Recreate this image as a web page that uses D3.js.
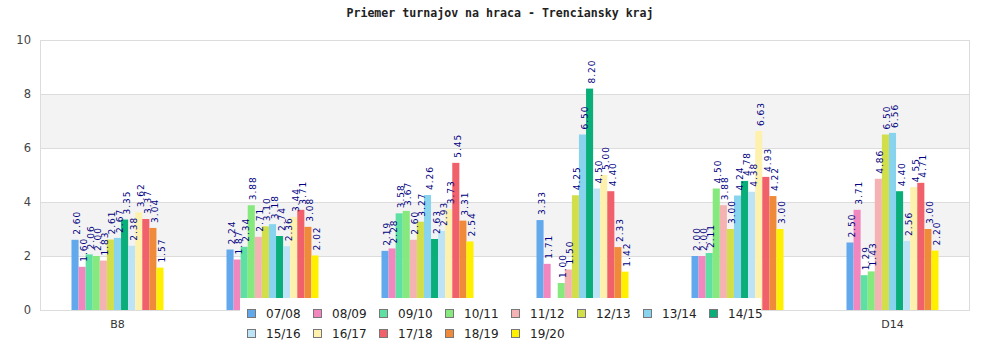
<!DOCTYPE html>
<html>
<head>
<meta charset="utf-8">
<script src="https://cdn.jsdelivr.net/npm/d3@7"></script>
<style>
  html, body { margin: 0; padding: 0; background: #fff; }
  svg { display: block; }
</style>
</head>
<body>
<svg id="chart" width="1000" height="350"></svg>
<script>
// Seasons (series) and their colours
const seasons = ["07/08", "08/09", "09/10", "10/11", "11/12", "12/13", "13/14",
                 "14/15", "15/16", "16/17", "17/18", "18/19", "19/20"];
const colors = ["#62a8ec", "#f286bf", "#5fe0a3", "#86e97e", "#f5b2b2", "#d3df4a", "#88d4ef",
                "#0aae78", "#bde3f6", "#fdf1ad", "#f0616b", "#ee8a39", "#fff000"];

// Category tick labels (only some are printed on the axis)
const tickLabels = ["B8", "", "", "", "", "D14"];

// Average tournaments per player, one array per category, ordered by season
const group1 = [2.60, 1.60, 2.06, 2.00, 1.83, 2.61, 2.67, 3.35, 2.38, 3.62, 3.37, 3.04, 1.57];
const group2 = [2.24, 1.87, 2.34, 3.88, 2.71, 3.10, 3.18, 2.74, 2.36, 3.44, 3.71, 3.08, 2.02];
const group3 = [2.19, 2.28, 3.58, 3.67, 2.60, 3.27, 4.26, 2.63, 2.93, 3.73, 5.45, 3.31, 2.54];
const group4 = [3.33, 1.71, null, 1.00, 1.50, 4.25, 6.50, 8.20, 4.50, 5.00, 4.40, 2.33, 1.42];
const group5 = [2.00, 2.00, 2.11, 4.50, 3.88, 3.00, 4.24, 4.78, 4.38, 6.63, 4.93, 4.22, 3.00];
const group6 = [2.50, 3.71, 1.29, 1.43, 4.86, 6.50, 6.56, 4.40, 2.56, 4.55, 4.71, 3.00, 2.20];
const groups = [group1, group2, group3, group4, group5, group6];

const yTicks = [0, 2, 4, 6, 8, 10];
const title = "Priemer turnajov na hraca - Trenciansky kraj";

const svg = d3.select("#chart");
const plot = { left: 40, right: 970, top: 40, bottom: 310 };

const x0 = d3.scaleBand()
  .domain(d3.range(groups.length))
  .range([plot.left, plot.right])
  .paddingInner(0)
  .paddingOuter(0);

const groupInner = 92; // width taken by the 13 bars of a group
const x1 = d3.scaleBand()
  .domain(seasons)
  .range([(x0.bandwidth() - groupInner) / 2, (x0.bandwidth() + groupInner) / 2])
  .padding(0);

const y = d3.scaleLinear().domain([0, 10]).range([plot.bottom, plot.top]);

// Alternating shaded bands between gridlines
svg.append("g").selectAll("rect")
  .data(d3.pairs(yTicks).filter((p, i) => i % 2 === 1))
  .join("rect")
  .attr("x", plot.left)
  .attr("width", plot.right - plot.left)
  .attr("y", d => y(d[1]))
  .attr("height", d => y(d[0]) - y(d[1]))
  .attr("fill", "#f3f3f3");

// Horizontal gridlines
svg.append("g").selectAll("line")
  .data(yTicks)
  .join("line")
  .attr("x1", plot.left).attr("x2", plot.right)
  .attr("y1", d => y(d) + 0.5).attr("y2", d => y(d) + 0.5)
  .attr("stroke", "#dcdcdc");

// Frame sides
svg.append("line")
  .attr("x1", plot.left + 0.5).attr("x2", plot.left + 0.5)
  .attr("y1", plot.top).attr("y2", plot.bottom)
  .attr("stroke", "#dcdcdc");
svg.append("line")
  .attr("x1", plot.right - 0.5).attr("x2", plot.right - 0.5)
  .attr("y1", plot.top).attr("y2", plot.bottom)
  .attr("stroke", "#dcdcdc");

// Y axis labels
const yAxis = d3.axisLeft(y).tickValues(yTicks).tickSize(0).tickPadding(9);
svg.append("g")
  .attr("transform", `translate(${plot.left},0)`)
  .call(yAxis)
  .call(g => g.select(".domain").remove())
  .call(g => g.selectAll("text")
    .attr("font-family", "DejaVu Sans, sans-serif")
    .attr("font-size", 11.5)
    .attr("fill", "#444"));

// X axis labels
const xAxis = d3.axisBottom(x0).tickFormat(i => tickLabels[i]).tickSize(0).tickPadding(10);
svg.append("g")
  .attr("transform", `translate(0,${plot.bottom})`)
  .call(xAxis)
  .call(g => g.select(".domain").remove())
  .call(g => g.selectAll("text")
    .attr("font-family", "DejaVu Sans, sans-serif")
    .attr("font-size", 11)
    .attr("fill", "#333"));

// Bars
const gGroups = svg.append("g").selectAll("g")
  .data(groups)
  .join("g")
  .attr("transform", (d, i) => `translate(${x0(i)},0)`);

const cells = d => d.map((v, j) => ({ season: seasons[j], color: colors[j], value: v }))
                    .filter(c => c.value !== null);

gGroups.selectAll("rect")
  .data(cells)
  .join("rect")
  .attr("x", d => x1(d.season))
  .attr("width", x1.bandwidth())
  .attr("y", d => y(d.value))
  .attr("height", d => y(0) - y(d.value))
  .attr("fill", d => d.color);

// Value labels, rotated
gGroups.selectAll("text")
  .data(cells)
  .join("text")
  .attr("transform", d => `translate(${x1(d.season) + x1.bandwidth() / 2 + 5},${y(d.value) - 5}) rotate(-90)`)
  .attr("font-family", "DejaVu Sans, sans-serif")
  .attr("font-size", 9)
  .attr("letter-spacing", 1)
  .attr("fill", "#000080")
  .text(d => d.value.toFixed(2));

// Title
svg.append("text")
  .attr("x", 500).attr("y", 17)
  .attr("text-anchor", "middle")
  .attr("font-family", "DejaVu Sans Mono, monospace")
  .attr("font-weight", "bold")
  .attr("font-size", 11.6)
  .attr("fill", "#222")
  .text(title);

// Legend on a white panel
const legend = svg.append("g");
legend.append("rect")
  .attr("x", 240).attr("y", 298)
  .attr("width", 521).attr("height", 52)
  .attr("fill", "#fff");

const perRow = 8;
const items = legend.selectAll("g.item")
  .data(seasons)
  .join("g")
  .attr("class", "item")
  .attr("transform", (d, i) => `translate(${247 + (i % perRow) * 66},${314 + Math.floor(i / perRow) * 20})`);

items.append("rect")
  .attr("x", 0.5).attr("y", -4.5)
  .attr("width", 8).attr("height", 8)
  .attr("fill", (d, i) => colors[i])
  .attr("stroke", "#777");

items.append("text")
  .attr("x", 19).attr("y", 4)
  .attr("font-family", "DejaVu Sans, sans-serif")
  .attr("font-size", 12)
  .attr("fill", "#222")
  .text(d => d);
</script>
</body>
</html>
